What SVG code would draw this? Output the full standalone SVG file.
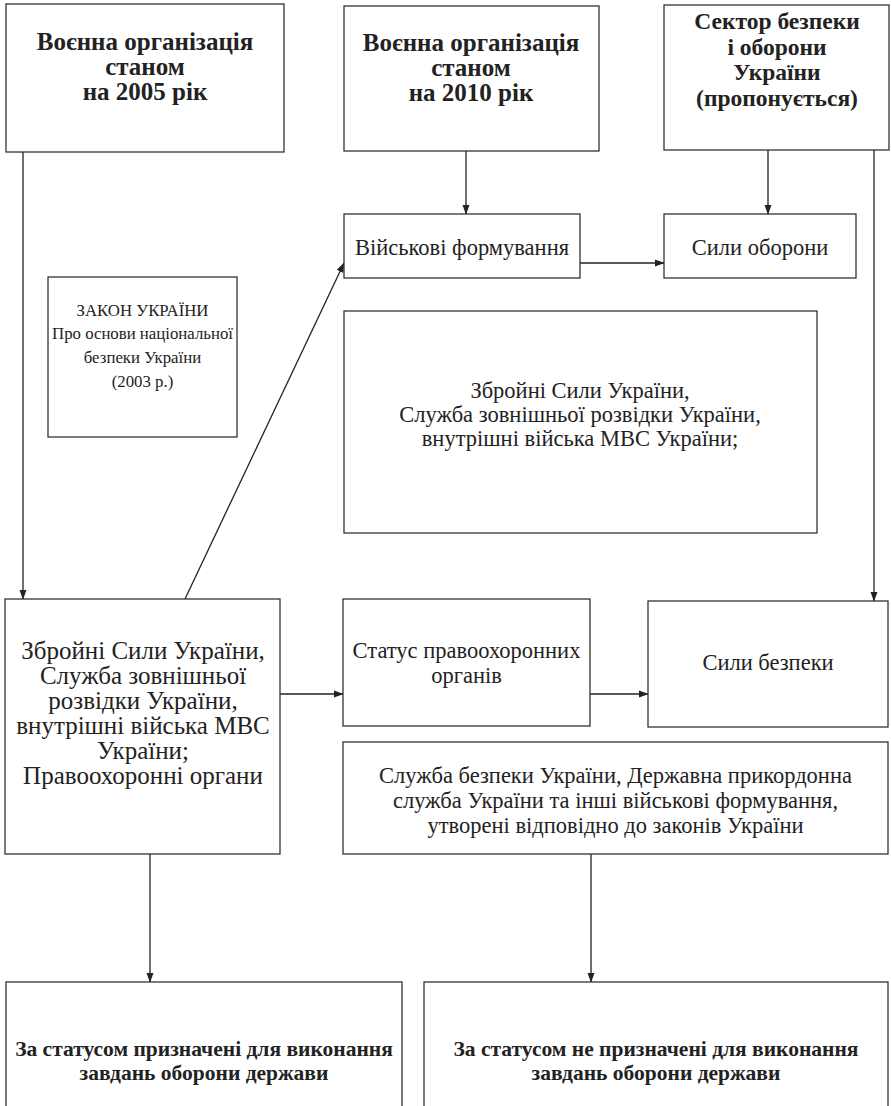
<svg xmlns="http://www.w3.org/2000/svg" width="891" height="1106" viewBox="0 0 891 1106">
<style>
.box{fill:#fff;stroke:#333;stroke-width:1.3}
.t{font-family:"Liberation Serif","Times New Roman",Times,serif;fill:#222;text-anchor:middle}
.b{font-weight:bold}
.r{font-size:22.5px}
.ln{stroke:#222;stroke-width:1.3;fill:none}
</style>
<defs>
<marker id="ah" markerWidth="10" markerHeight="14" refX="13" refY="5" viewBox="0 0 14 10" orient="auto" markerUnits="userSpaceOnUse">
<path d="M0,0 L14,5 L0,10 Z" fill="#222"/>
</marker>
</defs>
<rect width="891" height="1106" fill="#fff"/>
<g id="connectors">
<line class="ln" x1="23" y1="152" x2="23" y2="599" marker-end="url(#ah)"/>
<line class="ln" x1="466" y1="151" x2="466" y2="214" marker-end="url(#ah)"/>
<line class="ln" x1="768" y1="150" x2="768" y2="214" marker-end="url(#ah)"/>
<line class="ln" x1="874" y1="150" x2="874" y2="601" marker-end="url(#ah)"/>
<line class="ln" x1="580" y1="263" x2="664" y2="263" marker-end="url(#ah)"/>
<line class="ln" x1="185" y1="599" x2="344" y2="263" marker-end="url(#ah)"/>
<line class="ln" x1="280" y1="694" x2="343" y2="694" marker-end="url(#ah)"/>
<line class="ln" x1="590" y1="694" x2="648" y2="694" marker-end="url(#ah)"/>
<line class="ln" x1="150" y1="854" x2="150" y2="982" marker-end="url(#ah)"/>
<line class="ln" x1="591" y1="854" x2="591" y2="982" marker-end="url(#ah)"/>
</g>
<g id="box-2005">
<rect class="box" x="6" y="4" width="278" height="148"/>
<text class="t b" font-size="25"><tspan x="145" y="50">Воєнна організація</tspan><tspan x="145" y="75">станом</tspan><tspan x="145" y="100">на 2005 рік</tspan></text>
</g>
<g id="box-2010">
<rect class="box" x="344" y="6" width="255" height="145"/>
<text class="t b" font-size="25"><tspan x="471" y="51">Воєнна організація</tspan><tspan x="471" y="76">станом</tspan><tspan x="471" y="101">на 2010 рік</tspan></text>
</g>
<g id="box-sector">
<rect class="box" x="664" y="5" width="225" height="145"/>
<text class="t b" font-size="23.5"><tspan x="777" y="29">Сектор безпеки</tspan><tspan x="777" y="54.5">і оборони</tspan><tspan x="777" y="80">України</tspan><tspan x="777" y="105.5">(пропонується)</tspan></text>
</g>
<g id="box-law">
<rect class="box" x="48" y="277" width="189" height="160"/>
<text class="t" font-size="16.8"><tspan x="142.5" y="316">ЗАКОН УКРАЇНИ</tspan><tspan x="142.5" y="339">Про основи національної</tspan><tspan x="142.5" y="363">безпеки України</tspan><tspan x="142.5" y="387">(2003 р.)</tspan></text>
</g>
<g id="box-formations">
<rect class="box" x="344" y="214" width="236" height="64"/>
<text class="t r" x="462" y="255">Військові формування</text>
</g>
<g id="box-defence">
<rect class="box" x="664" y="214" width="192" height="64"/>
<text class="t r" x="760" y="255">Сили оборони</text>
</g>
<g id="box-armed">
<rect class="box" x="344" y="311" width="473" height="222"/>
<text class="t r"><tspan x="580" y="398">Збройні Сили України,</tspan><tspan x="580" y="422">Служба зовнішньої розвідки України,</tspan><tspan x="580" y="446">внутрішні війська МВС України;</tspan></text>
</g>
<g id="box-2005-list">
<rect class="box" x="5" y="599" width="275" height="255"/>
<text class="t" font-size="25"><tspan x="143" y="659">Збройні Сили України,</tspan><tspan x="143" y="684">Служба зовнішньої</tspan><tspan x="143" y="709">розвідки України,</tspan><tspan x="143" y="734">внутрішні війська МВС</tspan><tspan x="143" y="759">України;</tspan><tspan x="143" y="784">Правоохоронні органи</tspan></text>
</g>
<g id="box-status">
<rect class="box" x="343" y="599" width="247" height="127"/>
<text class="t r"><tspan x="466.5" y="658">Статус правоохоронних</tspan><tspan x="466.5" y="683">органів</tspan></text>
</g>
<g id="box-security">
<rect class="box" x="648" y="601" width="240" height="126"/>
<text class="t r" x="768" y="670">Сили безпеки</text>
</g>
<g id="box-sbu">
<rect class="box" x="343" y="742" width="545" height="112"/>
<text class="t r"><tspan x="615.5" y="783">Служба безпеки України, Державна прикордонна</tspan><tspan x="615.5" y="808">служба України та інші військові формування,</tspan><tspan x="615.5" y="833">утворені відповідно до законів України</tspan></text>
</g>
<g id="box-defence-tasks">
<rect class="box" x="6" y="982" width="396" height="140"/>
<text class="t b" font-size="21.5"><tspan x="204" y="1056">За статусом призначені для виконання</tspan><tspan x="204" y="1080">завдань оборони держави</tspan></text>
</g>
<g id="box-nondefence-tasks">
<rect class="box" x="424" y="982" width="464" height="140"/>
<text class="t b" font-size="21.5"><tspan x="656" y="1056">За статусом не призначені для виконання</tspan><tspan x="656" y="1080">завдань оборони держави</tspan></text>
</g>
</svg>
